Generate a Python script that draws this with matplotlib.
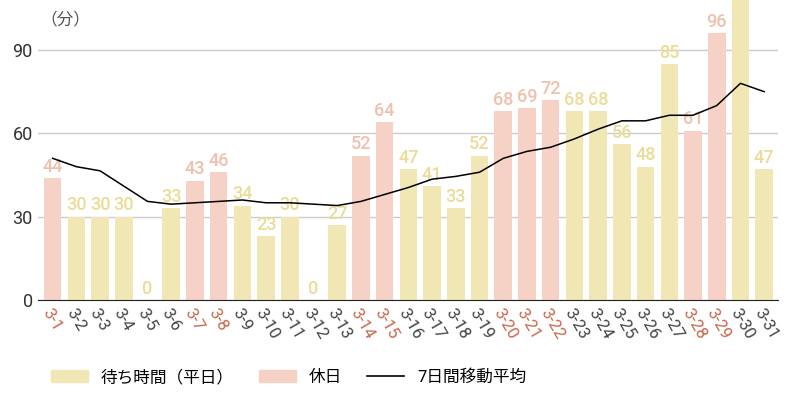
import matplotlib
matplotlib.use("Agg")
import matplotlib.pyplot as plt
from matplotlib.patches import Patch
from matplotlib.lines import Line2D

plt.rcParams['font.family'] = ['Roboto', 'Noto Sans CJK JP', 'DejaVu Sans']

days = [f"3-{i}" for i in range(1, 32)]
values = [44,30,30,30,0,33,43,46,34,23,30,0,27,52,64,47,41,33,52,68,69,72,68,68,56,48,85,61,96,110,47]
holiday = [1,0,0,0,0,0,1,1,0,0,0,0,0,1,1,0,0,0,0,1,1,1,0,0,0,0,0,1,1,0,0]
avg7 = [51,48,46.5,41,35.5,34.5,35,35.5,36,35,35,34.5,34,35.5,38,40.5,43.5,44.5,46,51,53.5,55,58,61.5,64.5,64.5,66.5,66.5,70,78,75]

c_wd = '#f1e7b5'; c_hd = '#f6d2c6'
t_wd = '#ebdc98'; t_hd = '#f0c0ae'

fig = plt.figure(figsize=(8, 4), dpi=100)
ax = fig.add_axes([0.048, 0.25, 0.925, 0.75])
x = list(range(len(days)))
cols = [c_hd if h else c_wd for h in holiday]
ax.bar(x, values, width=0.74, color=cols, zorder=2)
for i, v in enumerate(values):
    if v < 105:
        ax.text(i, v + 0.8, str(v), ha='center', va='bottom', fontsize=13,
                color=t_hd if holiday[i] else t_wd, fontweight='medium', zorder=3)
ax.plot(x, avg7, color='black', lw=1.1, zorder=4)
ax.set_ylim(0, 108)
ax.set_xlim(-0.6, 30.6)
ax.set_yticks([0, 30, 60, 90])
ax.tick_params(axis='y', length=0, labelsize=13, colors='#333333', pad=4)
ax.grid(axis='y', color='#cccccc', lw=1, zorder=0)
for s in ['top', 'right', 'left']:
    ax.spines[s].set_visible(False)
ax.spines['bottom'].set_color('#222222')
ax.set_xticks(x)
ax.set_xticklabels(days, rotation=-60, ha='left', rotation_mode='anchor', fontsize=12)
for lbl, h in zip(ax.get_xticklabels(), holiday):
    lbl.set_color('#c9674c' if h else '#444444')
ax.tick_params(axis='x', length=0, pad=4)
ax.text(-0.5, 98, '（分）', fontsize=12, color='#555555', ha='left', va='bottom')

handles = [Patch(color=c_wd, label='待ち時間（平日）'), Patch(color=c_hd, label='休日'),
           Line2D([], [], color='black', lw=1.2, label='7日間移動平均')]
fig.legend(handles=handles, loc='lower left', bbox_to_anchor=(0.045, 0.0), ncol=3,
           frameon=False, fontsize=12, handlelength=2.2, columnspacing=1.5)
fig.savefig('out.png', dpi=100)
